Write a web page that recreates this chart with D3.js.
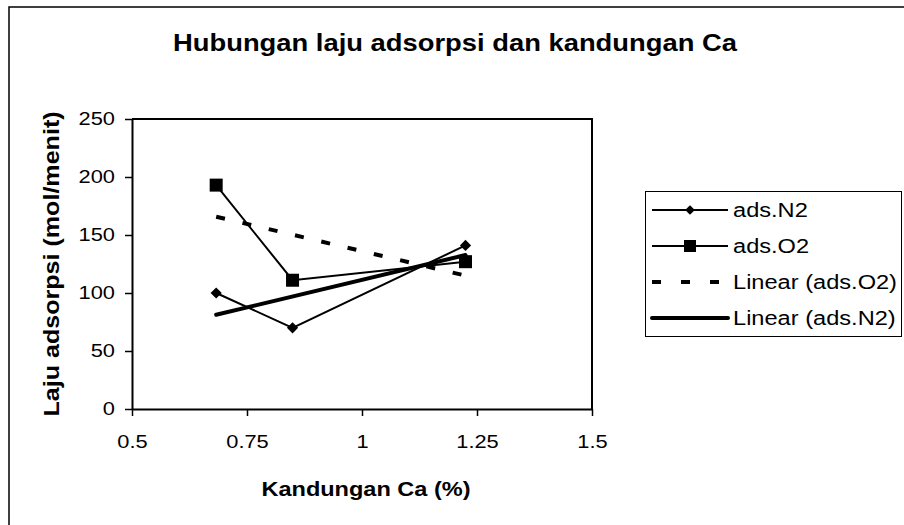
<!DOCTYPE html>
<html><head><meta charset="utf-8">
<script src="https://cdn.jsdelivr.net/npm/d3@7"></script>
<style>body{margin:0;background:#fff}svg{display:block;font-family:"Liberation Sans",Arial,sans-serif}</style>
</head><body><svg id="c" width="904" height="525"></svg>
<script>
const xValues = [0.683, 0.849, 1.225];
const n2Values = [100, 70, 141];
const o2Values = [193, 111, 127];
const xTicks = [0.5, 0.75, 1, 1.25, 1.5];
const yTicks = [0, 50, 100, 150, 200, 250];
const seriesNames = ["ads.N2", "ads.O2", "Linear (ads.O2)", "Linear (ads.N2)"];
const title = "Hubungan laju adsorpsi dan kandungan Ca";
const xTitle = "Kandungan Ca (%)";
const yTitle = "Laju adsorpsi (mol/menit)";

const FONT = '"Liberation Sans",Arial,sans-serif';
const svg = d3.select("#c");
const L = 132, R = 592, T = 119, B = 409;
const x = d3.scaleLinear().domain([0.5, 1.5]).range([L, R]);
const y = d3.scaleLinear().domain([0, 250]).range([B, T]);

function stretch(sel, k) {
  sel.each(function () {
    const len = this.getComputedTextLength();
    d3.select(this).attr("textLength", len * k).attr("lengthAdjust", "spacingAndGlyphs");
  });
}

// outer chart border
svg.append("rect").attr("x", 9).attr("y", 7).attr("width", 1000).attr("height", 1000)
  .attr("fill", "none").attr("stroke", "#000").attr("stroke-width", 1.5);

svg.append("text").attr("x", 455).attr("y", 51).attr("text-anchor", "middle")
  .attr("font-size", 24).attr("font-weight", "bold").text(title).call(stretch, 1.14);

// axes
const yAxis = svg.append("g").attr("transform", `translate(${L},0)`)
  .call(d3.axisLeft(y).tickValues(yTicks).tickSize(7).tickSizeOuter(0).tickPadding(10));
const xAxis = svg.append("g").attr("transform", `translate(0,${B})`)
  .call(d3.axisBottom(x).tickValues(xTicks).tickSize(7).tickSizeOuter(0).tickPadding(19).tickFormat(d => String(d)));
[yAxis, xAxis].forEach(g => {
  g.selectAll("text").attr("font-size", 18.5).attr("font-family", FONT).attr("fill", "#000").call(stretch, 1.18);
  g.selectAll("line").attr("stroke", "#000").attr("stroke-width", 1.5);
  g.select(".domain").attr("stroke", "#000").attr("stroke-width", 2);
});
// plot frame top/right
svg.append("path").attr("d", `M${L},${T}H${R}V${B}`).attr("fill", "none").attr("stroke", "#000").attr("stroke-width", 2);

svg.append("text").attr("x", 366).attr("y", 496).attr("text-anchor", "middle")
  .attr("font-size", 21).attr("font-weight", "bold").text(xTitle).call(stretch, 1.12);
svg.append("text").attr("transform", "translate(59,264) rotate(-90)").attr("text-anchor", "middle")
  .attr("font-size", 22).attr("font-weight", "bold").text(yTitle).call(stretch, 1.14);

function fit(xs, ys) {
  const mx = d3.mean(xs), my = d3.mean(ys);
  const sxy = d3.sum(xs, (v, i) => (v - mx) * (ys[i] - my));
  const sxx = d3.sum(xs, v => (v - mx) ** 2);
  const b = sxy / sxx, a = my - b * mx;
  const x0 = d3.min(xs), x1 = d3.max(xs);
  return [[x0, a + b * x0], [x1, a + b * x1]];
}
const line = d3.line().x(d => x(d[0])).y(d => y(d[1]));
const n2 = xValues.map((v, i) => [v, n2Values[i]]);
const o2 = xValues.map((v, i) => [v, o2Values[i]]);

// trendlines
svg.append("path").attr("d", line(fit(xValues, o2Values))).attr("fill", "none")
  .attr("stroke", "#000").attr("stroke-width", 4).attr("stroke-dasharray", "9,18");
svg.append("path").attr("d", line(fit(xValues, n2Values))).attr("fill", "none")
  .attr("stroke", "#000").attr("stroke-width", 4).attr("stroke-linecap", "round");

svg.append("path").attr("d", line(n2)).attr("fill", "none").attr("stroke", "#000").attr("stroke-width", 2);
svg.append("path").attr("d", line(o2)).attr("fill", "none").attr("stroke", "#000").attr("stroke-width", 2);

const diamond = d3.symbol().type(d3.symbolDiamond2).size(80);
svg.selectAll(".dn").data(n2).join("path").attr("transform", d => `translate(${x(d[0])},${y(d[1])})`)
  .attr("d", diamond()).attr("fill", "#000");
svg.selectAll(".sq").data(o2).join("rect")
  .attr("x", d => x(d[0]) - 6.5).attr("y", d => y(d[1]) - 6.5).attr("width", 13).attr("height", 13).attr("fill", "#000");

// legend
const lg = svg.append("g");
lg.append("rect").attr("x", 645.5).attr("y", 191.5).attr("width", 256).attr("height", 145)
  .attr("fill", "#fff").attr("stroke", "#000").attr("stroke-width", 1);
const rows = [210, 246, 282, 318];
seriesNames.forEach((name, i) => {
  const yy = rows[i];
  const ln = lg.append("line").attr("x1", 652).attr("x2", 728).attr("y1", yy).attr("y2", yy).attr("stroke", "#000");
  if (i < 2) ln.attr("stroke-width", 2);
  else if (i === 2) ln.attr("stroke-width", 4).attr("stroke-dasharray", "9,20");
  else ln.attr("stroke-width", 4).attr("stroke-linecap", "round");
  if (i === 0) lg.append("path").attr("transform", `translate(690,${yy})`).attr("d", d3.symbol().type(d3.symbolDiamond2).size(60)()).attr("fill", "#000");
  if (i === 1) lg.append("rect").attr("x", 684).attr("y", yy - 6).attr("width", 12).attr("height", 12).attr("fill", "#000");
  lg.append("text").attr("x", 733).attr("y", yy + 7).attr("font-size", 20).text(name).call(stretch, 1.18);
});
</script></body></html>
